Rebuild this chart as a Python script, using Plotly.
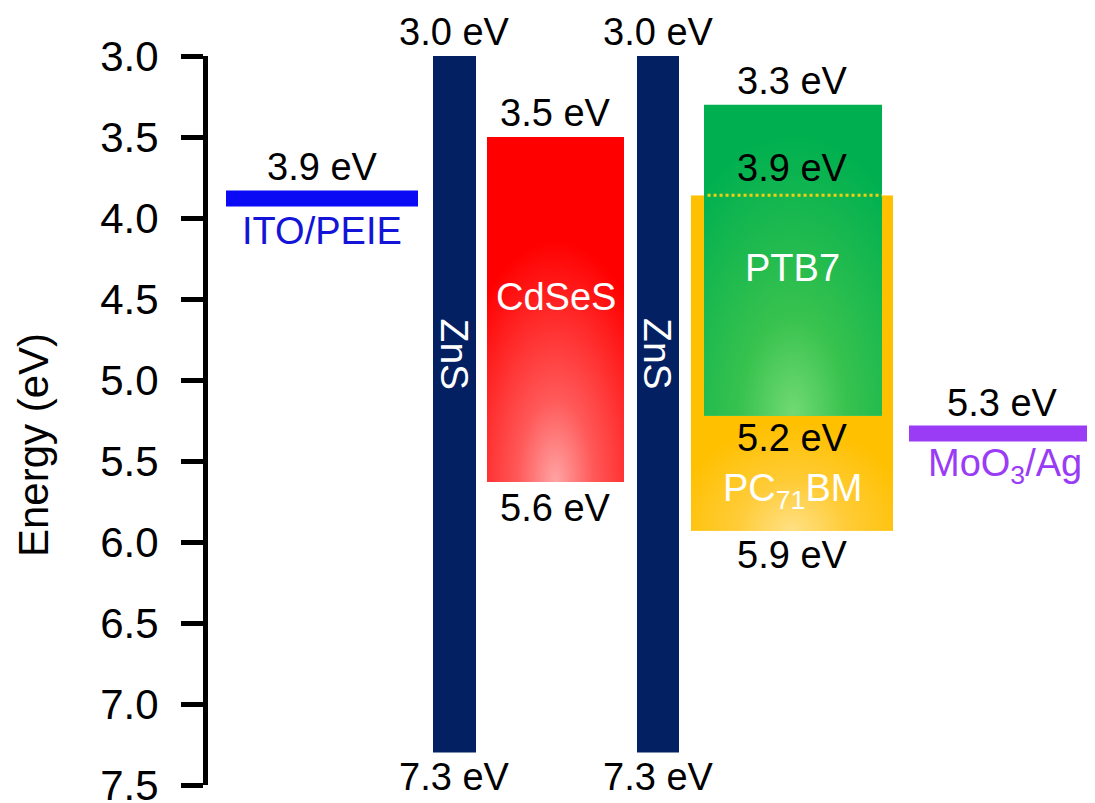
import numpy as np
import plotly.graph_objects as go

# ---------------- data (energy levels, eV) ----------------
y_ticks = [3.0, 3.5, 4.0, 4.5, 5.0, 5.5, 6.0, 6.5, 7.0, 7.5]
ito_level = 3.88
zns_top = 3.0
zns_bottom = 7.3
cdses_top = 3.5
cdses_bottom = 5.63
ptb7_top = 3.3
ptb7_bottom = 5.22
pcbm_top = 3.86
pcbm_bottom = 5.93
moo3_level = 5.33

# label texts
ito_labels = ["3.9 eV", "ITO/PEIE"]
zns_labels = ["3.0 eV", "7.3 eV", "ZnS"]
cdses_labels = ["3.5 eV", "5.6 eV", "CdSeS"]
ptb7_labels = ["3.3 eV", "3.9 eV", "PTB7", "5.2 eV"]
pcbm_labels = ["PC<sub>71</sub>BM", "5.9 eV"]
moo3_labels = ["5.3 eV", "MoO<sub>3</sub>/Ag"]

# ---------------- layout constants ----------------
W, H = 1095, 803
OFF = 8                      # page body margin offset
AX_X = 208                   # page x of y-axis
TOP_PX, BOT_PX = 56, 785     # page y of 3.0 and 7.5
ML = AX_X - OFF
MT = TOP_PX - OFF
MB = H - (BOT_PX - OFF)
MR = 0
PW = W - ML - MR
PH = H - MT - MB
YMIN, YMAX = 3.0, 7.5
FONT = "Liberation Sans, Arial, sans-serif"
LBL = 38

# column pixel extents (page coordinates)
col_ito = (226, 418)
col_zns1 = (433, 476)
col_cdses = (487, 624)
col_zns2 = (637, 679)
col_pcbm = (691, 893)
col_ptb7 = (704, 882)
col_moo3 = (909, 1100)

C_ZNS = "#022062"
C_RED = "#FF0000"
C_GREEN = "#00B050"
C_ORANGE = "#FFC000"
C_BLUE = "#0A0AF5"
C_PURPLE = "#9A3CF5"


def cx(col):
    return (col[0] + col[1]) / 2


fig = go.Figure()

fig.add_trace(go.Scatter(x=[AX_X, AX_X + PW], y=[YMIN, YMAX], mode="markers",
                         marker=dict(opacity=0), hoverinfo="skip",
                         showlegend=False, xaxis="x", yaxis="y"))

layout_axes = {}


def box_subplot(idx, col, top, bottom, base, scale, ax, ay):
    """Gradient-filled box drawn in its own (clipped) subplot."""
    xd = [(col[0] - AX_X) / PW, (col[1] - AX_X) / PW]
    yd = [1 - (bottom - YMIN) / (YMAX - YMIN), 1 - (top - YMIN) / (YMAX - YMIN)]
    xa, ya = f"x{idx}", f"y{idx}"
    layout_axes[f"xaxis{idx}"] = dict(domain=xd, range=[0, 1], visible=False,
                                      anchor=ya, fixedrange=True)
    layout_axes[f"yaxis{idx}"] = dict(domain=yd, range=[bottom, top], visible=False,
                                      anchor=xa, fixedrange=True)
    fig.add_trace(go.Scatter(x=[0, 1, 1, 0, 0], y=[top, top, bottom, bottom, top],
                             fill="toself", fillcolor=base, mode="lines",
                             line=dict(width=0, color=base), hoverinfo="skip",
                             showlegend=False, xaxis=xa, yaxis=ya))
    th = np.linspace(0, 2 * np.pi, 120)
    ex = 0.5 + ax * np.cos(th)
    ey = bottom + ay * (bottom - top) * np.sin(th)
    fig.add_trace(go.Scatter(x=ex, y=ey, fill="toself", mode="lines",
                             line=dict(width=0, color=base),
                             fillgradient=dict(type="radial", colorscale=scale),
                             hoverinfo="skip", showlegend=False,
                             xaxis=xa, yaxis=ya))
    return xa, ya


box_subplot(2, col_cdses, cdses_top, cdses_bottom, C_RED,
            [[0, "#FFA4A4"], [0.35, "#FF5858"], [1, C_RED]], 0.8, 0.7)
box_subplot(3, col_pcbm, pcbm_top, pcbm_bottom, C_ORANGE,
            [[0, "#FFE085"], [0.45, "#FFCC38"], [1, C_ORANGE]], 0.6, 0.32)
xa4, ya4 = box_subplot(4, col_ptb7, ptb7_top, ptb7_bottom, C_GREEN,
                       [[0, "#72DA72"], [0.35, "#38C24E"], [1, C_GREEN]], 0.85, 0.9)

# dotted LUMO line of PC71BM inside the PTB7 box
fig.add_trace(go.Scatter(x=[0.02, 1], y=[pcbm_top, pcbm_top], mode="lines",
                         line=dict(color="#F2CF10", width=3, dash="dot"),
                         hoverinfo="skip", showlegend=False, xaxis=xa4, yaxis=ya4))

shapes = []
for col in (col_zns1, col_zns2):
    shapes.append(dict(type="rect", xref="x", yref="y", x0=col[0], x1=col[1],
                       y0=zns_top, y1=zns_bottom, fillcolor=C_ZNS, line_width=0,
                       layer="above"))
shapes.append(dict(type="line", xref="x", yref="y", x0=col_ito[0], x1=col_ito[1],
                   y0=ito_level, y1=ito_level, line=dict(color=C_BLUE, width=16)))
shapes.append(dict(type="line", xref="x", yref="y", x0=col_moo3[0], x1=col_moo3[1],
                   y0=moo3_level, y1=moo3_level, line=dict(color=C_PURPLE, width=16)))

ann = []


def label(x, y, text, shift, color="black", size=LBL, angle=0):
    ann.append(dict(x=x, y=y, xref="x", yref="y", text=text, showarrow=False,
                    yshift=shift, xanchor="center", yanchor="middle",
                    textangle=angle, font=dict(family=FONT, size=size, color=color)))


label(cx(col_ito), ito_level, ito_labels[0], 32)
label(cx(col_ito), ito_level, ito_labels[1], -32, color="#1414D8")
for col in (col_zns1, col_zns2):
    label(cx(col), zns_top, zns_labels[0], 24)
    label(cx(col), zns_bottom, zns_labels[1], -24)
    label(cx(col), zns_top + 1.84, zns_labels[2], 0, color="white", size=39, angle=90)
label(cx(col_cdses), cdses_top, cdses_labels[0], 24)
label(cx(col_cdses), cdses_bottom, cdses_labels[1], -26)
label(cx(col_cdses), cdses_top, cdses_labels[2], -160, color="white")
label(cx(col_pcbm), ptb7_top, ptb7_labels[0], 24)
label(cx(col_pcbm), pcbm_top, ptb7_labels[1], 27)
label(cx(col_pcbm), ptb7_top, ptb7_labels[2], -163, color="white")
label(cx(col_pcbm), ptb7_bottom, ptb7_labels[3], -22)
label(cx(col_pcbm), pcbm_bottom, pcbm_labels[0], 40, color="white")
label(cx(col_pcbm), pcbm_bottom, pcbm_labels[1], -24)
label(1002, moo3_level, moo3_labels[0], 30)
label(1005, moo3_level, moo3_labels[1], -33, color=C_PURPLE)

# y-axis title
ann.append(dict(x=(33 - AX_X) / PW, y=1 - (445 - TOP_PX) / PH, xref="paper",
                yref="paper", text="Energy (eV)", showarrow=False, textangle=-90,
                xanchor="center", yanchor="middle",
                font=dict(family=FONT, size=42, color="black")))

fig.update_layout(
    width=W, height=H,
    margin=dict(l=ML, r=MR, t=MT, b=MB, autoexpand=False),
    paper_bgcolor="white", plot_bgcolor="white",
    showlegend=False,
    xaxis=dict(range=[AX_X, AX_X + PW], visible=False, fixedrange=True),
    yaxis=dict(range=[YMAX, YMIN], tickvals=y_ticks, tickformat=".1f",
               showline=True, linewidth=5, linecolor="black",
               ticks="outside", ticklen=22, tickwidth=5, tickcolor="black",
               ticklabelstandoff=14, automargin=False, ticklabeloverflow="allow",
               tickfont=dict(family=FONT, size=42, color="black"),
               showgrid=False, zeroline=False, fixedrange=True),
    shapes=shapes,
    annotations=ann,
    **layout_axes,
)

fig.write_html("out.html")
